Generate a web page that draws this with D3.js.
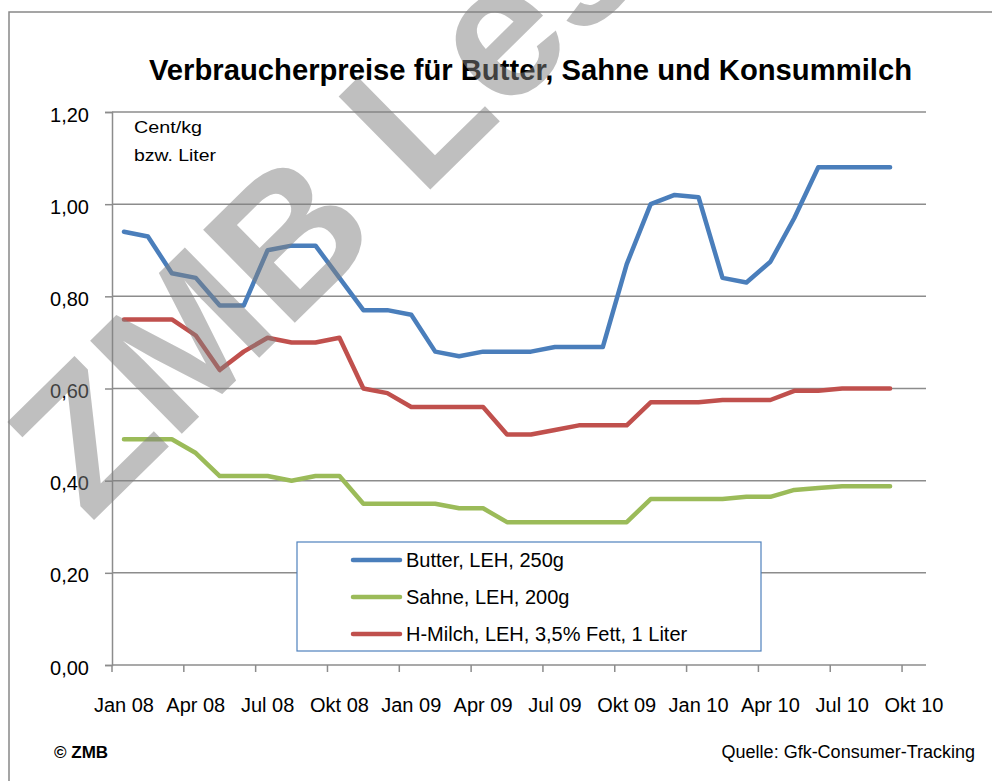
<!DOCTYPE html>
<html>
<head>
<meta charset="utf-8">
<script src="https://cdn.jsdelivr.net/npm/d3@7/dist/d3.min.js"></script>
<style>
  body { margin: 0; background: #fff; }
  text { font-family: "Liberation Sans", Arial, sans-serif; fill: #000; }
</style>
</head>
<body>
<div class="parent"></div>
<script>
// months on the category axis (Jan 08 .. Okt 10)
const months = [
  "Jan 08","Feb 08","Mrz 08","Apr 08","Mai 08","Jun 08","Jul 08","Aug 08","Sep 08","Okt 08","Nov 08","Dez 08",
  "Jan 09","Feb 09","Mrz 09","Apr 09","Mai 09","Jun 09","Jul 09","Aug 09","Sep 09","Okt 09","Nov 09","Dez 09",
  "Jan 10","Feb 10","Mrz 10","Apr 10","Mai 10","Jun 10","Jul 10","Aug 10","Sep 10","Okt 10"
];
const tickMonths = ["Jan 08","Apr 08","Jul 08","Okt 08","Jan 09","Apr 09","Jul 09","Okt 09","Jan 10","Apr 10","Jul 10","Okt 10"];
const yTicks = [0, 0.2, 0.4, 0.6, 0.8, 1.0, 1.2];

const butter = [0.94,0.93,0.85,0.84,0.78,0.78,0.90,0.91,0.91,0.84,0.77,0.77,0.76,0.68,0.67,0.68,0.68,0.68,
  0.69,0.69,0.69,0.87,1.00,1.02,1.015,0.84,0.83,0.875,0.97,1.08,1.08,1.08,1.08];
const sahne = [0.49,0.49,0.49,0.46,0.41,0.41,0.41,0.40,0.41,0.41,0.35,0.35,0.35,0.35,0.34,0.34,0.31,0.31,
  0.31,0.31,0.31,0.31,0.36,0.36,0.36,0.36,0.365,0.365,0.38,0.384,0.388,0.388,0.388];
const milch = [0.75,0.75,0.75,0.715,0.64,0.68,0.71,0.70,0.70,0.71,0.60,0.59,0.56,0.56,0.56,0.56,0.50,0.50,
  0.51,0.52,0.52,0.52,0.57,0.57,0.57,0.575,0.575,0.575,0.595,0.595,0.60,0.60,0.60];

const seriesNames = ["Butter, LEH, 250g", "Sahne, LEH, 200g", "H-Milch, LEH, 3,5% Fett, 1 Liter"];
const seriesColors = ["#4a7ebb", "#9bbb59", "#c0504d"];
const seriesData = [butter, sahne, milch];

const width = 992, height = 781;
const plot = { left: 112, right: 926, top: 112, bottom: 665 };

const svg = d3.select(".parent").append("svg")
  .attr("width", width)
  .attr("height", height);

// chart frame (only left/top edges visible in the picture)
svg.append("rect")
  .attr("x", 9).attr("y", 12)
  .attr("width", 1000).attr("height", 800)
  .attr("fill", "none")
  .attr("stroke", "#888").attr("stroke-width", 1.5);

const x = d3.scaleBand().domain(months).range([plot.left, plot.right]);
const y = d3.scaleLinear().domain([0, 1.2]).range([plot.bottom, plot.top]);
const cx = m => x(m) + x.bandwidth() / 2;
const fmt = d => d3.format(".2f")(d).replace(".", ",");

// gridlines
svg.append("g").selectAll("line")
  .data(yTicks.filter(d => d > 0))
  .join("line")
  .attr("x1", plot.left).attr("x2", plot.right)
  .attr("y1", d => y(d)).attr("y2", d => y(d))
  .attr("stroke", "#8c8c8c").attr("stroke-width", 1.5);

// y axis
const yAxis = svg.append("g")
  .attr("transform", `translate(${plot.left},0)`)
  .call(d3.axisLeft(y).tickValues(yTicks).tickSize(7).tickPadding(16).tickFormat(fmt));
yAxis.select(".domain").attr("stroke", "#8c8c8c").attr("stroke-width", 1.5);
yAxis.selectAll(".tick line").attr("stroke", "#8c8c8c").attr("stroke-width", 1.5);
yAxis.selectAll(".tick text")
  .attr("dy", "0.45em")
  .style("font-size", "20px")
  .style("font-family", "\"Liberation Sans\", Arial, sans-serif")
  .attr("fill", "#000");

// x axis
const xAxis = svg.append("g");
xAxis.append("line")
  .attr("x1", plot.left).attr("x2", plot.right)
  .attr("y1", plot.bottom).attr("y2", plot.bottom)
  .attr("stroke", "#8c8c8c").attr("stroke-width", 1.5);
xAxis.selectAll(".xtick")
  .data(tickMonths)
  .join("line")
  .attr("class", "xtick")
  .attr("x1", d => x(d)).attr("x2", d => x(d))
  .attr("y1", plot.bottom).attr("y2", plot.bottom + 7)
  .attr("stroke", "#8c8c8c").attr("stroke-width", 1.5);
xAxis.selectAll(".xlabel")
  .data(tickMonths)
  .join("text")
  .attr("class", "xlabel")
  .attr("x", d => cx(d))
  .attr("y", 712)
  .attr("text-anchor", "middle")
  .style("font-size", "20px")
  .text(d => d);

// lines
const line = d3.line()
  .x((d, i) => cx(months[i]))
  .y(d => y(d));

svg.append("g").selectAll("path")
  .data(seriesData)
  .join("path")
  .attr("d", line)
  .attr("fill", "none")
  .attr("stroke", (d, i) => seriesColors[i])
  .attr("stroke-width", 4.5)
  .attr("stroke-linejoin", "round")
  .attr("stroke-linecap", "round");

// unit label
svg.append("text").attr("x", 134).attr("y", 133)
  .style("font-size", "16px").attr("textLength", 68).attr("lengthAdjust", "spacingAndGlyphs")
  .text("Cent/kg");
svg.append("text").attr("x", 134).attr("y", 161)
  .style("font-size", "16px").attr("textLength", 82).attr("lengthAdjust", "spacingAndGlyphs")
  .text("bzw. Liter");

// title
svg.append("text")
  .attr("x", 149).attr("y", 80)
  .style("font-size", "29px").style("font-weight", "bold")
  .attr("textLength", 763).attr("lengthAdjust", "spacingAndGlyphs")
  .text("Verbraucherpreise für Butter, Sahne und Konsummilch");

// legend
const legend = svg.append("g").attr("transform", "translate(297,542)");
legend.append("rect")
  .attr("width", 464).attr("height", 109)
  .attr("fill", "#fff")
  .attr("stroke", "#4f81bd").attr("stroke-width", 1.2);
seriesNames.forEach((name, i) => {
  const ly = 18 + i * 37;
  legend.append("line")
    .attr("x1", 56).attr("x2", 103)
    .attr("y1", ly).attr("y2", ly)
    .attr("stroke", seriesColors[i]).attr("stroke-width", 4.5)
    .attr("stroke-linecap", "round");
  legend.append("text")
    .attr("x", 109).attr("y", ly + 7)
    .style("font-size", "20px")
    .text(name);
});

// footer
svg.append("text").attr("x", 54).attr("y", 758)
  .style("font-size", "17px").style("font-weight", "bold")
  .text("© ZMB");
svg.append("text").attr("x", 975).attr("y", 758)
  .attr("text-anchor", "end")
  .style("font-size", "18px")
  .text("Quelle: Gfk-Consumer-Tracking");

// watermark on top
svg.append("text")
  .attr("transform", "translate(90,524) rotate(-44.5)")
  .style("font-size", "190px").style("font-weight", "bold")
  .attr("fill", "#808080").attr("fill-opacity", 0.5)
  .style("fill", "#808080")
  .text("ZMB Leseprobe");
</script>
</body>
</html>
